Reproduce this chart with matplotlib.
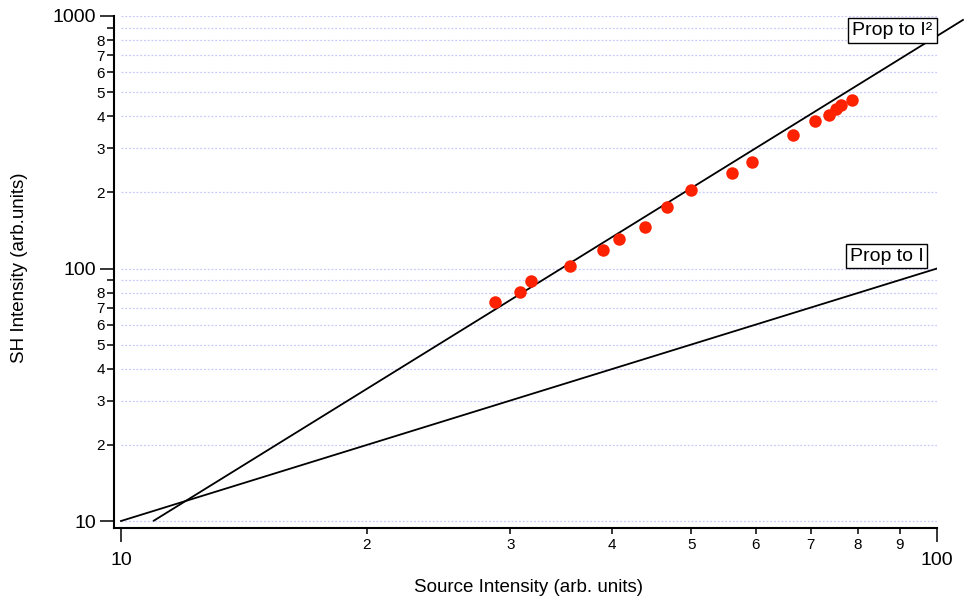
import numpy as np
import matplotlib.pyplot as plt
from matplotlib.ticker import FixedLocator, FixedFormatter

plt.rcParams['font.family'] = ['Liberation Sans', 'DejaVu Sans']

# measured points
source = [28.7, 30.8, 31.8, 35.5, 39.0, 40.8, 43.9, 46.7, 50.0, 56.1,
          59.4, 66.6, 70.9, 73.7, 75.3, 76.2, 78.6]
sh = [73.9, 80.9, 89.5, 102.3, 118.7, 131.2, 146.4, 174.8, 204.0, 238.9,
      264.1, 338.8, 383.9, 404.4, 427.1, 445.4, 464.9]

# reference lines
lin_x = [10, 100]
lin_y = [10, 100]
quad_x = np.array([10.97, 107.6])
quad_y = quad_x ** 2 / 12.0

x_major = [10, 100]
x_minor = [20, 30, 40, 50, 60, 70, 80, 90]
x_minor_labels = ['2', '3', '4', '5', '6', '7', '8', '9']
y_major = [10, 100, 1000]
y_minor = [20, 30, 40, 50, 60, 70, 80, 90, 200, 300, 400, 500, 600, 700, 800, 900]
y_minor_labels = ['2', '3', '4', '5', '6', '7', '8', '',
                  '2', '3', '4', '5', '6', '7', '8', '']

W, H = 964, 598
fig = plt.figure(figsize=(W / 100, H / 100), dpi=100)
# axes frame sits 7px outside the data range (Igor style offset)
ax = fig.add_axes([114 / W, 1 - 528 / H, (937 - 114) / W, (528 - 16) / H])
ax.set_xscale('log')
ax.set_yscale('log')
ax.set_xlim(10 ** (1 - 7 / 816), 100)
ax.set_ylim(10 ** (3 - 512 / 252.5), 1000)

# dotted grid over the data range only
ax.hlines(y_major + y_minor, 10, 100, colors='#c8c8ff', linestyles=(0, (1.5, 1.5)),
          linewidth=0.9, zorder=0)

ax.plot(lin_x, lin_y, color='black', lw=1.3, zorder=2)
ax.plot(quad_x, quad_y, color='black', lw=1.3, zorder=2, clip_on=False)
ax.plot(source, sh, 'o', color='#ff2200', ms=9, mec='none', zorder=3)

box = dict(boxstyle='square,pad=0.2', fc='white', ec='black', lw=1.0)
ax.text(88.2, 876, 'Prop to I²', fontsize=14, ha='center', va='center', bbox=box, zorder=4)
ax.text(86.7, 112, 'Prop to I', fontsize=14, ha='center', va='center', bbox=box, zorder=4)

ax.xaxis.set_major_locator(FixedLocator(x_major))
ax.xaxis.set_major_formatter(FixedFormatter([str(v) for v in x_major]))
ax.xaxis.set_minor_locator(FixedLocator(x_minor))
ax.xaxis.set_minor_formatter(FixedFormatter(x_minor_labels))
ax.yaxis.set_major_locator(FixedLocator(y_major))
ax.yaxis.set_major_formatter(FixedFormatter([str(v) for v in y_major]))
ax.yaxis.set_minor_locator(FixedLocator(y_minor))
ax.yaxis.set_minor_formatter(FixedFormatter(y_minor_labels))

ax.tick_params(axis='x', which='major', length=10, width=1.1, labelsize=14, pad=7)
ax.tick_params(axis='x', which='minor', length=4.5, width=1.1, labelsize=11, pad=2.5)
ax.tick_params(axis='y', which='major', length=10, width=1.1, labelsize=14, pad=3)
ax.tick_params(axis='y', which='minor', length=5, width=1.1, labelsize=11, pad=1.5)

for s in ['top', 'right']:
    ax.spines[s].set_visible(False)
for s in ['left', 'bottom']:
    ax.spines[s].set_linewidth(1.5)

fig.text(529 / W, 1 - 587 / H, 'Source Intensity (arb. units)', fontsize=13.5,
         ha='center', va='center')
fig.text(20 / W, 1 - 268 / H, 'SH Intensity (arb.units)', fontsize=13.5,
         ha='center', va='center', rotation=90)

fig.savefig('out.png', dpi=100)
